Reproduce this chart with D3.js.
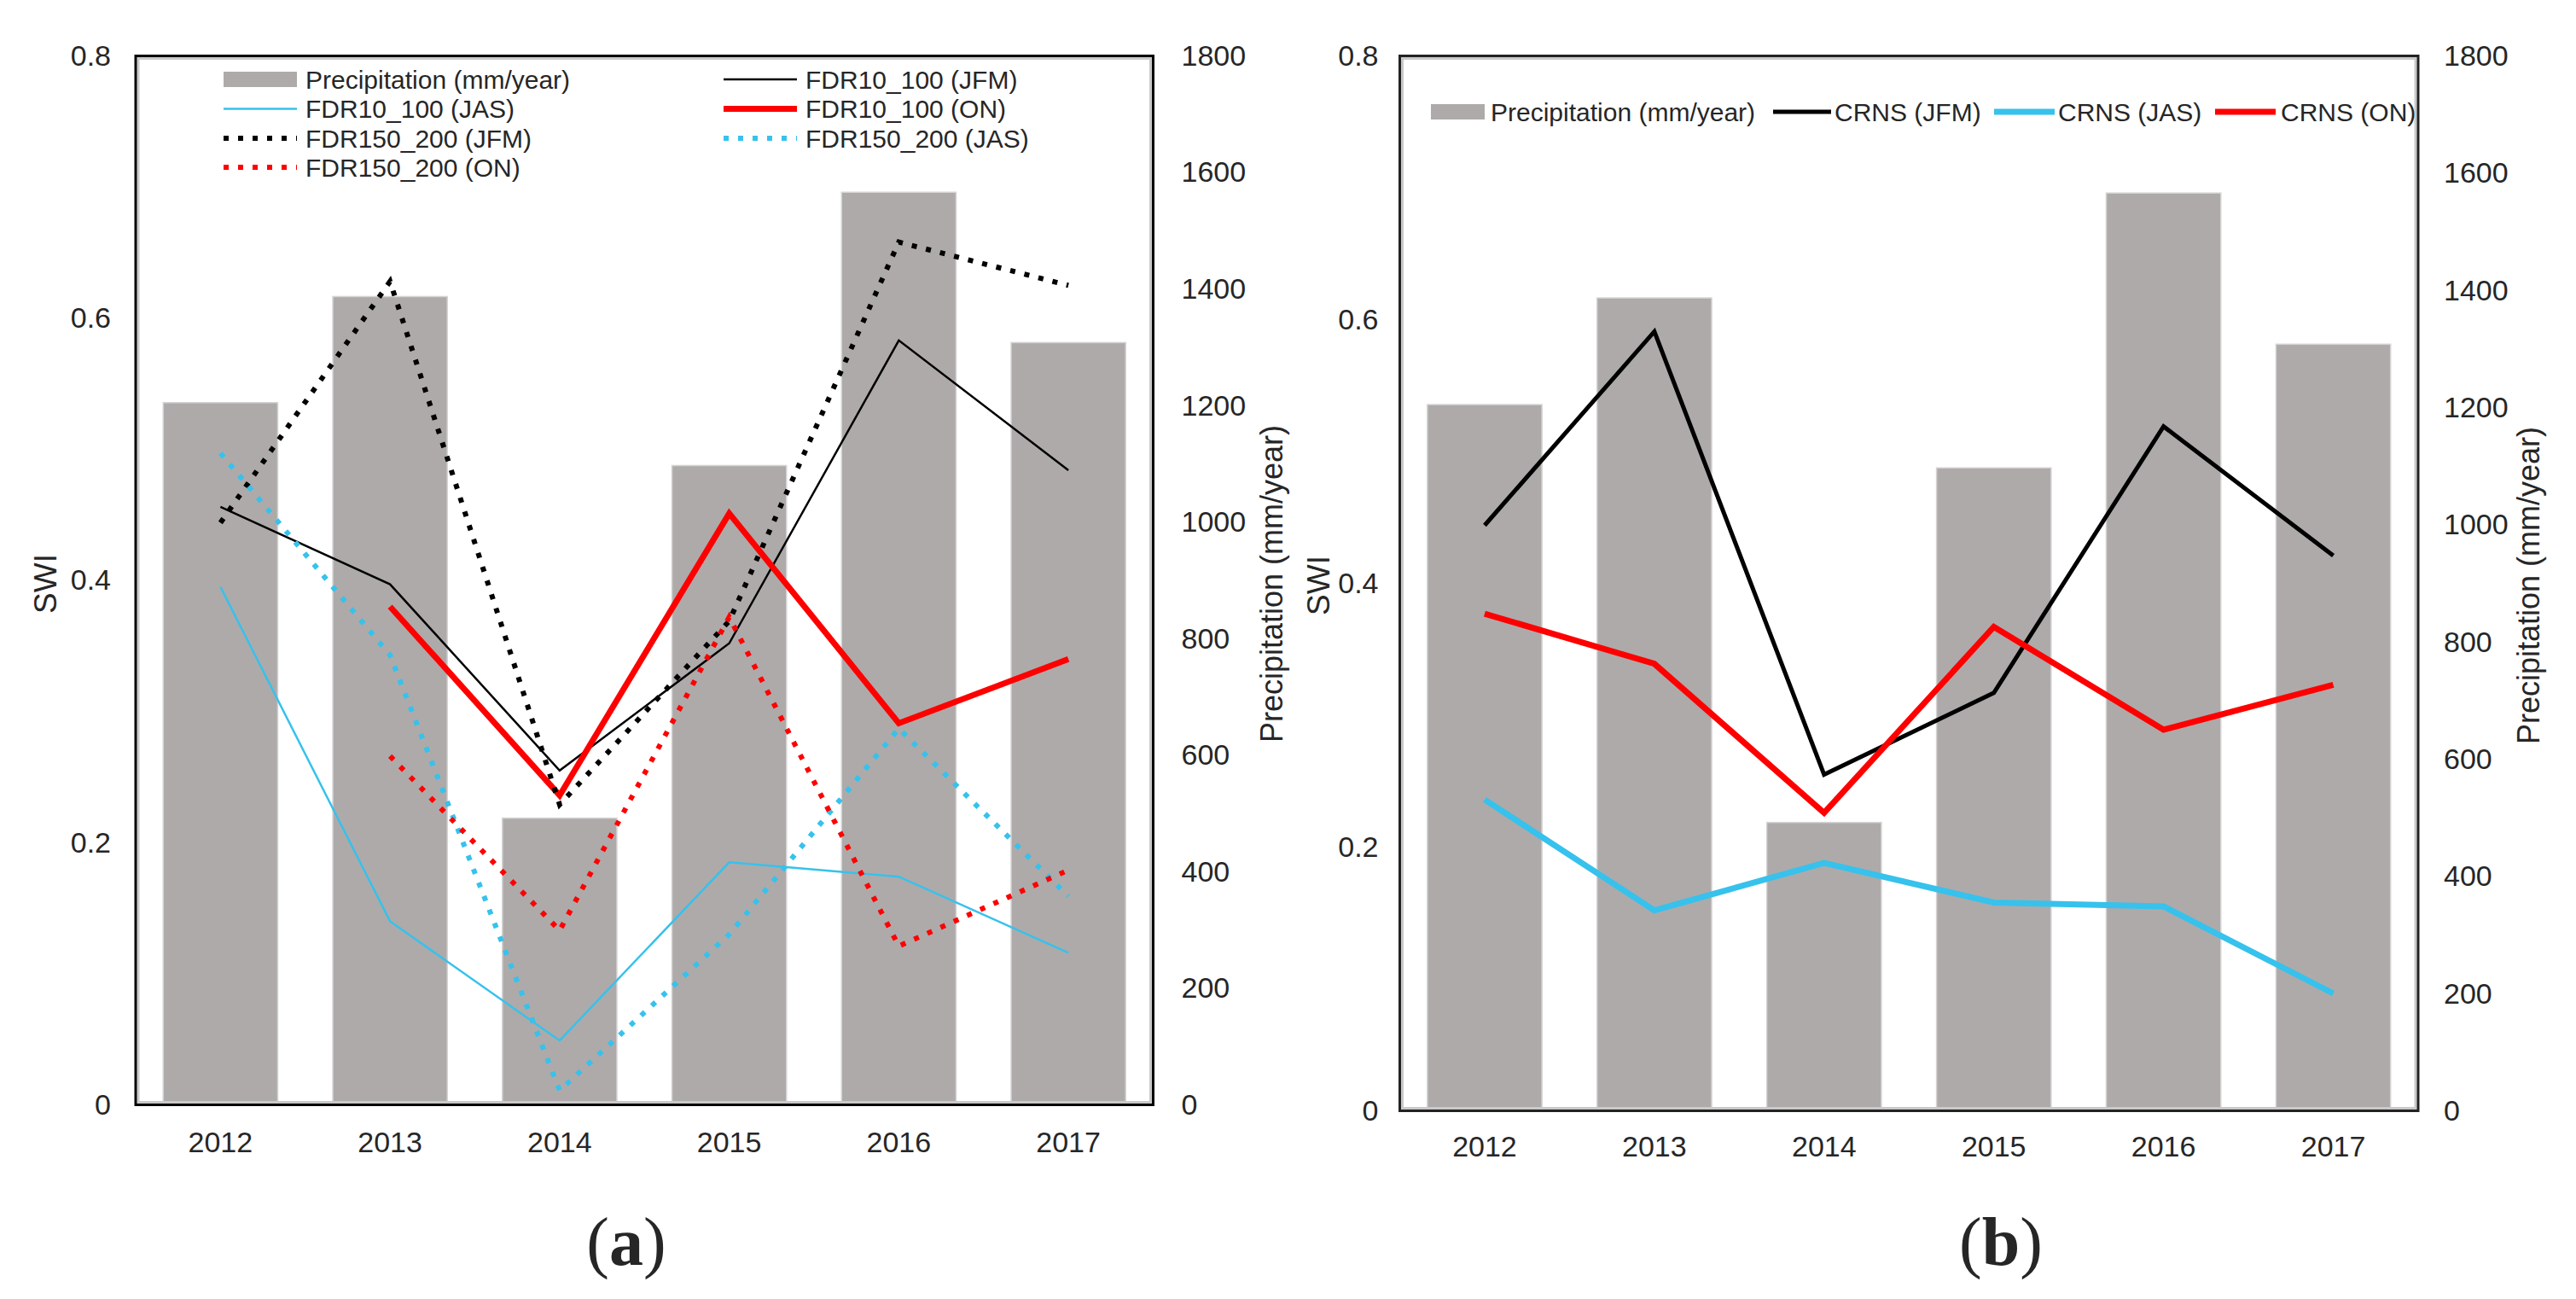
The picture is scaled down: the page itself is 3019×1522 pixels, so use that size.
<!DOCTYPE html>
<html><head><meta charset="utf-8">
<script src="https://cdn.jsdelivr.net/npm/d3@7"></script>
<style>
body{margin:0;background:#fff}
svg{display:block}
text{font-family:"Liberation Sans",Arial,sans-serif;fill:#262626}
</style>
</head><body>
<svg id="c" width="3019" height="1522"></svg>
<script>
// ---------- data ----------
const years = ["2012","2013","2014","2015","2016","2017"];
const precipitation = [1205, 1387, 492, 1097, 1566, 1308];

const fdr10_100_JFM  = [0.456, 0.397, 0.255, 0.352, 0.583, 0.484];
const fdr10_100_JAS  = [0.395, 0.140, 0.049, 0.185, 0.174, 0.116];
const fdr10_100_ON   = [null, 0.380, 0.236, 0.451, 0.291, 0.340];
const fdr150_200_JFM = [0.444, 0.628, 0.229, 0.369, 0.658, 0.625];
const fdr150_200_JAS = [0.497, 0.343, 0.011, 0.130, 0.287, 0.159];
const fdr150_200_ON  = [null, 0.266, 0.133, 0.372, 0.121, 0.179];

const crns_JFM = [0.444, 0.591, 0.255, 0.317, 0.519, 0.421];
const crns_JAS = [0.236, 0.152, 0.188, 0.158, 0.155, 0.089];
const crns_ON  = [0.377, 0.339, 0.226, 0.367, 0.289, 0.323];

const swiTicks = [0, 0.2, 0.4, 0.6, 0.8];
const precipTicks = [0, 200, 400, 600, 800, 1000, 1200, 1400, 1600, 1800];

// ---------- styles ----------
const BAR = "#AEAAAA", CYAN = "#36C2EC", RED = "#FF0000", BLACK = "#000000";
const DOT = "6 11";

const svg = d3.select("#c");

function panel(cfg) {
  const g = svg.append("g");
  const x = d3.scaleBand().domain(years).range([cfg.left, cfg.right])
              .paddingInner(0.325).paddingOuter(0.1625);
  const yL = d3.scaleLinear().domain([0, 0.8]).range([cfg.bottom, cfg.top]);
  const yR = d3.scaleLinear().domain([0, 1800]).range([cfg.bottom, cfg.top]);

  // bars
  g.append("g").selectAll("rect").data(years).join("rect")
    .attr("x", d => x(d)).attr("width", x.bandwidth())
    .attr("y", (d, i) => yR(precipitation[i]))
    .attr("height", (d, i) => cfg.bottom - yR(precipitation[i]))
    .attr("fill", BAR).attr("stroke", "#d4d2d2").attr("stroke-width", 1.5);

  // lines
  const line = d3.line()
    .defined(d => d.v != null)
    .x(d => x(d.year) + x.bandwidth() / 2)
    .y(d => yL(d.v));
  cfg.series.forEach(s => {
    g.append("path")
      .datum(years.map((yr, i) => ({year: yr, v: s.values[i]})))
      .attr("d", line)
      .attr("fill", "none")
      .attr("stroke", s.color)
      .attr("stroke-width", s.width)
      .attr("stroke-dasharray", s.dash || null)
      .attr("stroke-linejoin", "miter");
  });

  // frame: gray inner line + black outer line
  g.append("rect")
    .attr("x", cfg.left + 3).attr("y", cfg.top + 3)
    .attr("width", cfg.right - cfg.left - 6).attr("height", cfg.bottom - cfg.top - 6)
    .attr("fill", "none").attr("stroke", "#c9c9c9").attr("stroke-width", 3);
  g.append("rect")
    .attr("x", cfg.left).attr("y", cfg.top)
    .attr("width", cfg.right - cfg.left).attr("height", cfg.bottom - cfg.top)
    .attr("fill", "none").attr("stroke", cfg.frame).attr("stroke-width", 3);

  // left axis
  const axL = g.append("g").attr("transform", `translate(${cfg.left - cfg.leftGap},0)`)
    .call(d3.axisLeft(yL).tickValues(swiTicks).tickSize(0).tickPadding(0)
      .tickFormat(d => d === 0 ? "0" : d3.format(".1f")(d)));
  axL.select(".domain").remove();
  axL.selectAll("text").style("font-size", "34px").attr("fill", "#262626")
    .attr("font-family", null);

  // right axis
  const axR = g.append("g").attr("transform", `translate(${cfg.right + cfg.rightGap},0)`)
    .call(d3.axisRight(yR).tickValues(precipTicks).tickSize(0).tickPadding(0)
      .tickFormat(d3.format("d")));
  axR.select(".domain").remove();
  axR.selectAll("text").style("font-size", "34px").attr("fill", "#262626")
    .attr("font-family", null);

  // x labels
  g.append("g").selectAll("text").data(years).join("text")
    .attr("x", d => x(d) + x.bandwidth() / 2)
    .attr("y", cfg.yearY).attr("dy", "0.35em")
    .attr("text-anchor", "middle").style("font-size", "34px")
    .text(d => d);

  // axis titles
  g.append("text")
    .attr("transform", `translate(${cfg.swiTitleX},${cfg.titleY}) rotate(-90)`)
    .attr("text-anchor", "middle").attr("dy", "0.35em").style("font-size", "37px")
    .text("SWI");
  g.append("text")
    .attr("transform", `translate(${cfg.pTitleX},${cfg.titleY}) rotate(-90)`)
    .attr("text-anchor", "middle").attr("dy", "0.35em").style("font-size", "36px")
    .text("Precipitation (mm/year)");

  // legend
  const lg = g.append("g");
  cfg.legend.forEach(it => {
    if (it.type === "bar") {
      lg.append("rect").attr("x", it.sx).attr("y", it.y - 9).attr("width", it.sw)
        .attr("height", 18).attr("fill", BAR);
    } else {
      lg.append("line").attr("x1", it.sx).attr("x2", it.sx + it.sw)
        .attr("y1", it.y).attr("y2", it.y)
        .attr("stroke", it.s.color).attr("stroke-width", it.s.width)
        .attr("stroke-dasharray", it.s.dash || null);
    }
    lg.append("text").attr("x", it.tx).attr("y", it.y).attr("dy", "0.35em")
      .style("font-size", "30px").attr("fill", "#1a1a1a").text(it.label);
  });

  // panel label
  const pl = g.append("text").attr("x", cfg.labelX).attr("y", cfg.labelY)
    .attr("text-anchor", "middle")
    .style("font-family", '"Liberation Serif","Times New Roman",serif')
    .style("font-size", "80px").attr("fill", "#000");
  pl.append("tspan").text("(");
  pl.append("tspan").style("font-weight", "bold").text(cfg.label);
  pl.append("tspan").text(")");
}

// ---------- panel (a) ----------
const sA = {
  jfm10: {values: fdr10_100_JFM, color: BLACK, width: 2.5},
  jas10: {values: fdr10_100_JAS, color: CYAN, width: 2.5},
  on10:  {values: fdr10_100_ON, color: RED, width: 7},
  jfm150:{values: fdr150_200_JFM, color: BLACK, width: 6, dash: DOT},
  jas150:{values: fdr150_200_JAS, color: CYAN, width: 6, dash: DOT},
  on150: {values: fdr150_200_ON, color: RED, width: 6, dash: DOT}
};
panel({
  left: 159, right: 1351.5, top: 65.5, bottom: 1294.5,
  leftGap: 29, rightGap: 33, yearY: 1338, titleY: 684,
  swiTitleX: 53, pTitleX: 1490, frame: "#000",
  labelX: 734, labelY: 1482, label: "a",
  series: [sA.jfm10, sA.jas10, sA.on10, sA.jfm150, sA.jas150, sA.on150],
  legend: [
    {type: "bar", sx: 262, sw: 86, tx: 358, y: 93, label: "Precipitation (mm/year)"},
    {s: sA.jfm10, sx: 848, sw: 86, tx: 944, y: 93, label: "FDR10_100 (JFM)"},
    {s: sA.jas10, sx: 262, sw: 86, tx: 358, y: 127.5, label: "FDR10_100 (JAS)"},
    {s: sA.on10,  sx: 848, sw: 86, tx: 944, y: 127.5, label: "FDR10_100 (ON)"},
    {s: sA.jfm150, sx: 262, sw: 86, tx: 358, y: 162, label: "FDR150_200 (JFM)"},
    {s: sA.jas150, sx: 848, sw: 86, tx: 944, y: 162, label: "FDR150_200 (JAS)"},
    {s: sA.on150, sx: 262, sw: 86, tx: 358, y: 196, label: "FDR150_200 (ON)"}
  ]
});

// ---------- panel (b) ----------
const sB = {
  jfm: {values: crns_JFM, color: BLACK, width: 5},
  jas: {values: crns_JAS, color: CYAN, width: 7},
  on:  {values: crns_ON, color: RED, width: 7}
};
panel({
  left: 1640.5, right: 2834, top: 65.5, bottom: 1301.5,
  leftGap: 25, rightGap: 30, yearY: 1343, titleY: 686,
  swiTitleX: 1545, pTitleX: 2963, frame: "#222",
  labelX: 2345, labelY: 1482, label: "b",
  series: [sB.jfm, sB.jas, sB.on],
  legend: [
    {type: "bar", sx: 1677, sw: 63, tx: 1747, y: 131, label: "Precipitation (mm/year)"},
    {s: sB.jfm, sx: 2078, sw: 68, tx: 2150, y: 131, label: "CRNS (JFM)"},
    {s: sB.jas, sx: 2337, sw: 71, tx: 2412, y: 131, label: "CRNS (JAS)"},
    {s: sB.on,  sx: 2596, sw: 71, tx: 2673, y: 131, label: "CRNS (ON)"}
  ]
});
</script>
</body></html>
